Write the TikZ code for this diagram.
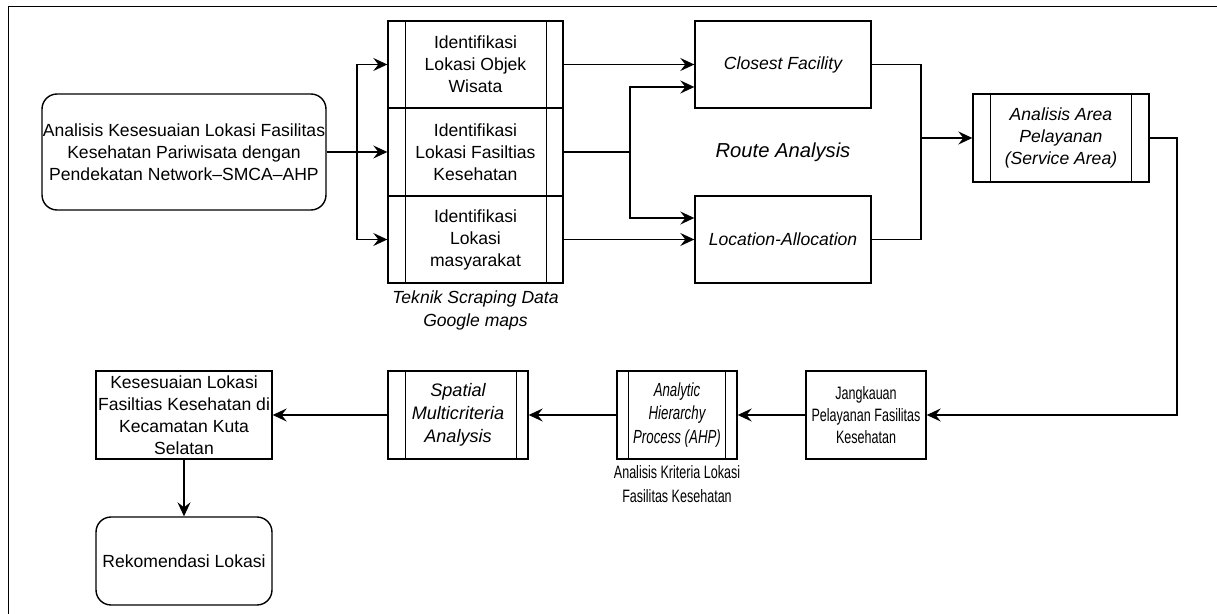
\documentclass[tikz,border=0pt]{standalone}
\usepackage{fontspec}
\setmainfont{Liberation Sans}
\newfontfamily\narrowfont[FakeStretch=0.7]{Liberation Sans}
\usetikzlibrary{arrows.meta}

\begin{document}
\begin{tikzpicture}[x=0.02cm, y=-0.02cm, line width=0.8pt,
	every node/.style={font=\fontsize{10}{12.5}\selectfont, inner sep=0pt, align=center},
	box/.style={draw, minimum width=3.52cm, minimum height=1.76cm},
	roundbox/.style={box, rounded corners=0.3cm},
	arr/.style={-{Stealth[length=2.8mm, width=2.6mm, inset=1mm]}},
	note/.style={font=\fontsize{10}{13.5}\selectfont\itshape}]
\useasboundingbox (0,0) rectangle (1217,614);
% frame
\draw[line width=1pt] (8.5,614) -- (8.5,6.5) -- (1217,6.5);
% start
\node[roundbox, minimum width=5.68cm, minimum height=2.32cm] (start) at (184,152)
	{Analisis Kesesuaian Lokasi Fasilitas\\Kesehatan Pariwisata dengan\\Pendekatan Network--SMCA--AHP};
% data identification
\node[box, minimum width=3.5cm, minimum height=1.74cm] (id1) at (475.5,64.5) {Identifikasi\\Lokasi Objek\\Wisata};
\node[box, minimum width=3.5cm, minimum height=1.74cm] (id2) at (475.5,152) {Identifikasi\\Lokasi Fasiltias\\Kesehatan};
\node[box, minimum width=3.5cm, minimum height=1.74cm] (id3) at (475.5,239.5) {Identifikasi\\Lokasi\\masyarakat};
\node[note, anchor=north] (scrap) at ([yshift=-0.12cm]id3.south) {Teknik Scraping Data\\Google maps};
% route analysis
\node[box, minimum height=1.74cm, font=\fontsize{10}{12.5}\selectfont\itshape] (cf) at (783,64.5) {Closest Facility};
\node[box, minimum height=1.74cm, font=\fontsize{10}{12.5}\selectfont\itshape] (la) at (783,239.5) {Location-Allocation};
\node[font=\fontsize{11.5}{14}\selectfont\itshape] (route) at (783,152) {Route Analysis};
% service area
\node[box, font=\fontsize{10}{12.5}\selectfont\itshape] (sa) at (1061,138) {Analisis Area\\Pelayanan\\(Service Area)};
% bottom row
\node[box, minimum width=2.4cm, font=\fontsize{10.2}{12.6}\narrowfont] (jk) at (866,415) {Jangkauan\\Pelayanan Fasilitas\\Kesehatan};
\node[box, minimum width=2.4cm, font=\fontsize{10.8}{13.2}\narrowfont\itshape] (ahp) at (677,415) {Analytic\\Hierarchy\\Process (AHP)};
\node[anchor=north, font=\fontsize{10.2}{14}\narrowfont] (krit) at ([yshift=-0.1cm]ahp.south) {Analisis Kriteria Lokasi\\Fasilitas Kesehatan};
\node[box, minimum width=2.8cm, font=\fontsize{10.3}{13}\selectfont\itshape] (sm) at (458,415) {Spatial\\Multicriteria\\Analysis};
\node[box] (ks) at (184,415) {Kesesuaian Lokasi\\Fasiltias Kesehatan di\\Kecamatan Kuta\\Selatan};
\node[roundbox] (rk) at (184,561) {Rekomendasi Lokasi};
% side bars of the sub-process boxes
\foreach \n/\l/\r in {id1/0.36/0.34, id2/0.36/0.34, id3/0.36/0.34, sa/0.36/0.36, ahp/0.24/0.24, sm/0.36/0.24} {
	\draw ([xshift=\l cm]\n.north west) -- ([xshift=\l cm]\n.south west);
	\draw ([xshift=-\r cm]\n.north east) -- ([xshift=-\r cm]\n.south east);
}
% connectors
\coordinate (br1) at (357,152);
\draw[arr] (start.east) -- (id2.west);
\draw[arr] (br1) |- (id1.west);
\draw[arr] (br1) |- (id3.west);
\draw[arr] (id1.east) -- (cf.west);
\draw[arr] (id3.east) -- (la.west);
\coordinate (br2) at (630,152);
\draw (id2.east) -- (br2);
\draw[arr] (br2) |- ([yshift=-0.45cm]cf.west);
\draw[arr] (br2) |- ([yshift=0.43cm]la.west);
\coordinate (jn) at (921,138);
\draw (cf.east) -| (jn);
\draw (la.east) -| (jn);
\draw[arr] (jn) -- (sa.west);
\coordinate (rt) at (1177,415);
\draw[arr] (sa.east) -| (rt) -- (jk.east);
\draw[arr] (jk.west) -- (ahp.east);
\draw[arr] (ahp.west) -- (sm.east);
\draw[arr] (sm.west) -- (ks.east);
\draw[arr] (ks.south) -- (rk.north);
\end{tikzpicture}
\end{document}
